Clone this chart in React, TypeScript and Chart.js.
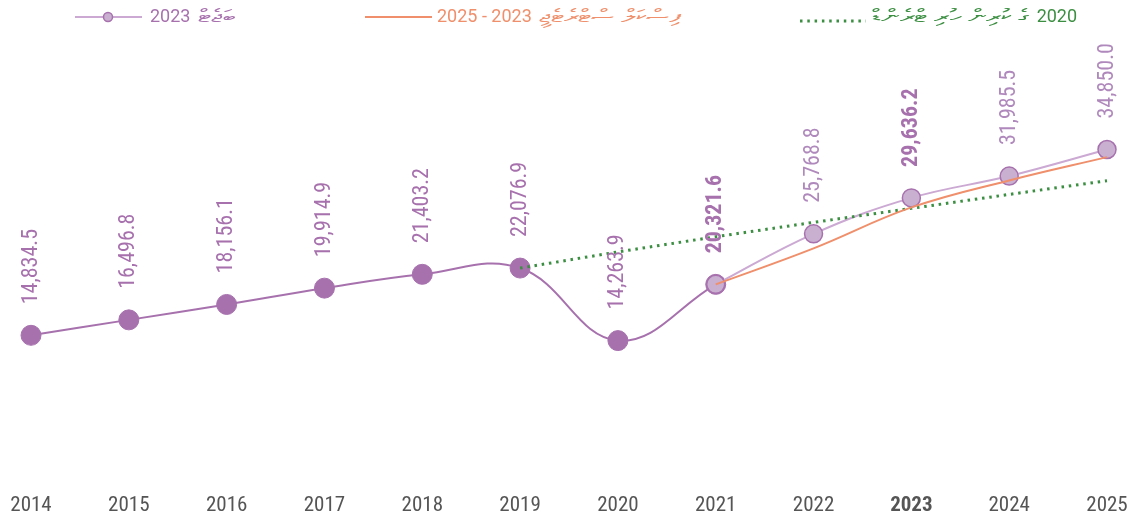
import React, { useEffect, useRef } from 'react';
import { Chart, registerables } from 'chart.js';

Chart.register(...registerables);

const years = ['2014', '2015', '2016', '2017', '2018', '2019', '2020', '2021', '2022', '2023', '2024', '2025'];
const actual = [14834.5, 16496.8, 18156.1, 19914.9, 21403.2, 22076.9, 14263.9, 20321.6, null, null, null, null];
const budget2023 = [null, null, null, null, null, null, null, 20321.6, 25768.8, 29636.2, 31985.5, 34850.0];
const fiscalStrategy = [null, null, null, null, null, null, null, 20321.6, 24200, 28610, 31520, 34030];
const preCovidTrend = [null, null, null, null, null, 22076.9, 23820, 25450, 27000, 28510, 30010, 31490];
const boldYears = ['2021', '2023'];
const boldTickYear = '2023';
const legendLabels = ['ބަޖެޓް 2023', 'ފިސްކަލް ސްޓްރެޓެޖީ 2023 - 2025', '2020 ގެ ކުރިން ހުރި ޓްރެންޑް'];
const yMin = 0;
const yMax = 46000;

const PURPLE = '#A771AE';
const PURPLE_LIGHT_LINE = '#CBA9D3';
const PURPLE_LIGHT_FILL = '#C9AFD0';
const ORANGE = '#EF8F6B';
const GREEN = '#3C8F42';
const FONT = "'Roboto Condensed', Roboto, sans-serif";
const THAANA_STRETCH = 1.45;

const fmt = (v: number) =>
  v.toLocaleString('en-US', { minimumFractionDigits: 1, maximumFractionDigits: 1 });

const valueLabelsPlugin = {
  id: 'valueLabels',
  afterDatasetsDraw(chart: any) {
    const ctx = chart.ctx;
    chart.data.datasets.forEach((ds: any, di: number) => {
      if (!ds.valueLabelColor) return;
      const meta = chart.getDatasetMeta(di);
      meta.data.forEach((pt: any, i: number) => {
        const v = ds.data[i];
        if (v == null) return;
        if (ds.valueLabelExclude && ds.valueLabelExclude.includes(years[i])) return;
        const bold = boldYears.includes(years[i]);
        ctx.save();
        ctx.font = `${bold ? 'bold ' : ''}22px ${FONT}`;
        ctx.fillStyle = bold ? PURPLE : ds.valueLabelColor;
        ctx.translate(pt.x, pt.y - 31);
        ctx.rotate(-Math.PI / 2);
        ctx.textAlign = 'left';
        ctx.textBaseline = 'middle';
        ctx.fillText(fmt(v), 0, 0);
        ctx.restore();
      });
    });
  },
};

// Split a legend string into its Thaana part and its other part, and return runs in visual (left-to-right) order
function legendRuns(label: string) {
  const m = label.match(/^([\u0780-\u07BF][\u0780-\u07BF\s]*)\s+(.+)$/);
  if (m) {
    return [{ text: m[2].trim(), thaana: false }, { text: m[1].trim(), thaana: true }];
  }
  const m2 = label.match(/^([^\u0780-\u07BF]+?)\s+([\u0780-\u07BF].*)$/);
  if (m2) {
    return [{ text: m2[2].trim(), thaana: true }, { text: m2[1].trim(), thaana: false }];
  }
  return [{ text: label, thaana: false }];
}

const customLegendPlugin = {
  id: 'customLegend',
  afterDraw(chart: any) {
    const ctx = chart.ctx;
    const y = 17;
    const starts = [75, 365, 800];
    const colors = [PURPLE, ORANGE, GREEN];
    ctx.save();
    let x = starts[0];
    ctx.strokeStyle = PURPLE_LIGHT_LINE;
    ctx.lineWidth = 2;
    ctx.beginPath();
    ctx.moveTo(x, y);
    ctx.lineTo(x + 67, y);
    ctx.stroke();
    ctx.beginPath();
    ctx.arc(x + 33, y, 4.5, 0, Math.PI * 2);
    ctx.fillStyle = PURPLE_LIGHT_FILL;
    ctx.fill();
    ctx.strokeStyle = PURPLE;
    ctx.lineWidth = 1.5;
    ctx.stroke();
    x = starts[1];
    ctx.strokeStyle = ORANGE;
    ctx.lineWidth = 2;
    ctx.beginPath();
    ctx.moveTo(x, y);
    ctx.lineTo(x + 67, y);
    ctx.stroke();
    x = starts[2];
    ctx.strokeStyle = GREEN;
    ctx.lineWidth = 3;
    ctx.setLineDash([2.5, 4.8]);
    ctx.beginPath();
    ctx.moveTo(x, y + 4);
    ctx.lineTo(x + 66, y + 4);
    ctx.stroke();
    ctx.setLineDash([]);
    const textOffsets = [75, 72, 72];
    legendLabels.forEach((label, i) => {
      ctx.font = `18px Roboto, 'Noto Sans', sans-serif`;
      try { (ctx as any).direction = 'rtl'; } catch (e) {}
      ctx.textAlign = 'left';
      ctx.textBaseline = 'middle';
      ctx.fillStyle = colors[i];
      const space = ctx.measureText(' ').width + 3;
      let cx = starts[i] + textOffsets[i];
      legendRuns(label).forEach((run, ri) => {
        if (ri > 0) cx += space;
        const w = ctx.measureText(run.text).width;
        if (run.thaana) {
          ctx.save();
          ctx.translate(cx, y);
          ctx.scale(THAANA_STRETCH, 1);
          ctx.fillText(run.text, 0, 0);
          ctx.restore();
          cx += w * THAANA_STRETCH;
        } else {
          ctx.fillText(run.text, cx, y);
          cx += w;
        }
      });
    });
    ctx.restore();
  },
};

export default function App() {
  const canvasRef = useRef<HTMLCanvasElement | null>(null);

  useEffect(() => {
    document.body.style.margin = '0';
    const canvas = canvasRef.current;
    if (!canvas) return;
    const chart = new Chart(canvas, {
      type: 'line',
      data: {
        labels: years,
        datasets: [
          {
            label: legendLabels[1],
            data: fiscalStrategy,
            borderColor: ORANGE,
            borderWidth: 2,
            pointRadius: 0,
            tension: 0.4,
            fill: false,
          },
          {
            label: legendLabels[2],
            data: preCovidTrend,
            borderColor: GREEN,
            borderWidth: 3,
            borderDash: [2.5, 4.8],
            pointRadius: 0,
            tension: 0,
            fill: false,
          },
          {
            label: legendLabels[0],
            data: budget2023,
            borderColor: PURPLE_LIGHT_LINE,
            borderWidth: 2,
            pointRadius: 9,
            pointBackgroundColor: PURPLE_LIGHT_FILL,
            pointBorderColor: PURPLE,
            pointBorderWidth: 1.5,
            tension: 0.4,
            fill: false,
            valueLabelColor: '#B089BC',
          },
          {
            label: 'actual',
            data: actual,
            borderColor: PURPLE,
            borderWidth: 2,
            pointRadius: 10,
            pointBackgroundColor: PURPLE,
            pointBorderColor: PURPLE,
            pointBorderWidth: 1,
            tension: 0.4,
            fill: false,
            valueLabelColor: PURPLE,
            valueLabelExclude: ['2021'],
          },
        ],
      } as any,
      options: {
        animation: false,
        responsive: true,
        maintainAspectRatio: false,
        events: [],
        layout: { padding: { top: 46, left: 31, right: 29, bottom: 0 } },
        plugins: {
          legend: { display: false },
          tooltip: { enabled: false },
        },
        scales: {
          x: {
            grid: { display: false, drawTicks: false },
            border: { display: false },
            afterFit: (scale: any) => {
              scale.paddingLeft = 0;
              scale.paddingRight = 0;
              scale.height = 42;
            },
            ticks: {
              padding: 20,
              color: '#555555',
              maxRotation: 0,
              autoSkip: false,
              font: (c: any) => ({
                family: FONT,
                size: 21,
                weight: c.tick && c.tick.label === boldTickYear ? 'bold' : 'normal',
              }),
            },
          },
          y: {
            display: false,
            min: yMin,
            max: yMax,
          },
        },
      } as any,
      plugins: [valueLabelsPlugin, customLegendPlugin],
    });
    return () => chart.destroy();
  }, []);

  return (
    <div style={{ position: 'relative', width: 1136, height: 515 }}>
      <canvas ref={canvasRef} />
    </div>
  );
}
